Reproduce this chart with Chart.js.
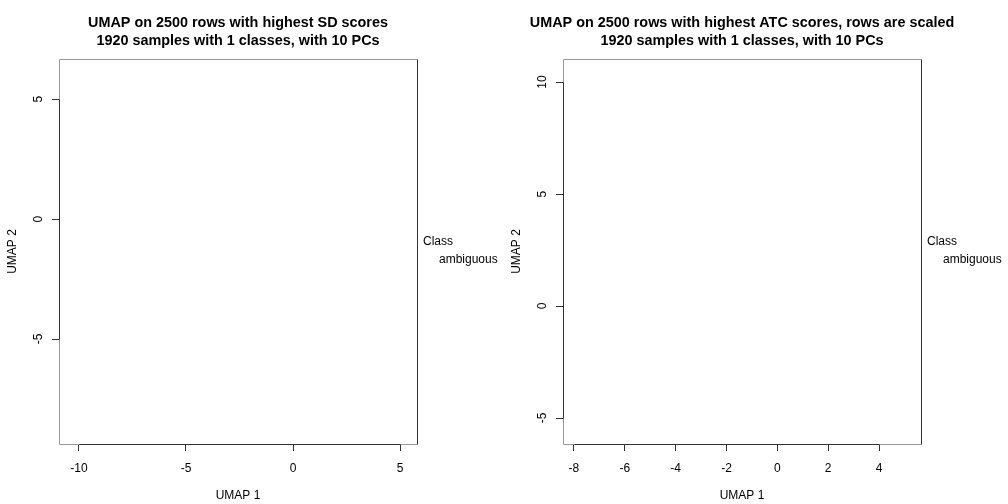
<!DOCTYPE html>
<html>
<head>
<meta charset="utf-8">
<script src="https://cdn.jsdelivr.net/npm/chart.js@4/dist/chart.umd.min.js"></script>
<style>
  html, body { margin: 0; padding: 0; background: #fff; }
  #wrap { position: relative; width: 1008px; height: 504px; }
  .panel { position: absolute; top: 0; width: 504px; height: 504px; }
</style>
</head>
<body>
<div id="wrap">
  <div class="panel" style="left:0"><canvas id="c1" width="504" height="504"></canvas></div>
  <div class="panel" style="left:504px"><canvas id="c2" width="504" height="504"></canvas></div>
</div>
<script>
// ---- data ----
const classes = ['ambiguous'];
const legendTitle = 'Class';

// Panel 1: SD scores (no points visible in the reference)
const sdTitle = ['UMAP on 2500 rows with highest SD scores', '1920 samples with 1 classes, with 10 PCs'];
const sdUmap1 = [];
const sdUmap2 = [];
const sdXRange = [-10.93, 5.79];
const sdYRange = [-9.375, 6.67];
const sdXTicks = [-10, -5, 0, 5];
const sdYTicks = [-5, 0, 5];

// Panel 2: ATC scores (no points visible in the reference)
const atcTitle = ['UMAP on 2500 rows with highest ATC scores, rows are scaled', '1920 samples with 1 classes, with 10 PCs'];
const atcUmap1 = [];
const atcUmap2 = [];
const atcXRange = [-8.43, 5.65];
const atcYRange = [-6.16, 11.03];
const atcXTicks = [-8, -6, -4, -2, 0, 2, 4];
const atcYTicks = [-5, 0, 5, 10];

const xLabel = 'UMAP 1';
const yLabel = 'UMAP 2';

const FONT = '"Liberation Sans", Arial, Helvetica, sans-serif';

function makePanel(canvasId, titleLines, xs, ys, xRange, yRange, xTicks, yTicks) {
  const points = xs.map((x, i) => ({ x: x, y: ys[i] }));
  const decor = {
    id: 'decor',
    afterDraw(chart) {
      const ctx = chart.ctx;
      const a = chart.chartArea;
      const xs_ = chart.scales.x, ys_ = chart.scales.y;
      ctx.save();
      // box
      ctx.lineWidth = 1;
      ctx.strokeStyle = '#9a9a9a';
      ctx.beginPath();
      ctx.moveTo(a.left + 0.5, a.bottom + 0.5); ctx.lineTo(a.left + 0.5, a.top + 0.5);
      ctx.lineTo(a.right + 0.5, a.top + 0.5);
      ctx.moveTo(a.left + 0.5, a.bottom + 0.5); ctx.lineTo(a.right + 0.5, a.bottom + 0.5);
      ctx.stroke();
      ctx.strokeStyle = '#333';
      ctx.beginPath();
      ctx.moveTo(a.right + 0.5, a.top + 0.5); ctx.lineTo(a.right + 0.5, a.bottom + 0.5);
      ctx.stroke();
      // axis segments from first to last tick
      const x0 = Math.round(xs_.getPixelForValue(xTicks[0])) + 0.5;
      const x1 = Math.round(xs_.getPixelForValue(xTicks[xTicks.length - 1])) + 0.5;
      const y0 = Math.round(ys_.getPixelForValue(yTicks[0])) + 0.5;
      const y1 = Math.round(ys_.getPixelForValue(yTicks[yTicks.length - 1])) + 0.5;
      ctx.beginPath();
      ctx.moveTo(x0, a.bottom + 0.5); ctx.lineTo(x1, a.bottom + 0.5);
      ctx.moveTo(a.left + 0.5, y0); ctx.lineTo(a.left + 0.5, y1);
      ctx.stroke();
      // rotated y tick labels
      ctx.fillStyle = '#000';
      ctx.font = '12px ' + FONT;
      ctx.textAlign = 'center';
      ctx.textBaseline = 'middle';
      yTicks.forEach(v => {
        const py = ys_.getPixelForValue(v);
        ctx.save();
        ctx.translate(a.left - 20.5, py);
        ctx.rotate(-Math.PI / 2);
        ctx.fillText(String(v), 0, 0);
        ctx.restore();
      });
      // titles
      ctx.font = 'bold 14.4px ' + FONT;
      ctx.textAlign = 'center';
      ctx.textBaseline = 'alphabetic';
      const cx = (a.left + a.right) / 2;
      ctx.fillText(titleLines[0], cx, 26.5);
      ctx.fillText(titleLines[1], cx, 44.5);
      // legend
      ctx.font = '12px ' + FONT;
      ctx.textAlign = 'left';
      ctx.fillText(legendTitle, a.right + 6, 245);
      classes.forEach((c, i) => {
        ctx.fillText(c, a.right + 22, 263 + i * 18);
      });
      ctx.restore();
    }
  };

  return new Chart(document.getElementById(canvasId), {
    type: 'scatter',
    data: {
      datasets: [{
        label: classes[0],
        data: points,
        pointRadius: 1,
        backgroundColor: 'rgba(0,0,0,0)',
        borderColor: 'rgba(0,0,0,0)'
      }]
    },
    options: {
      responsive: false,
      animation: false,
      layout: { padding: { left: 0, right: 87, top: 59, bottom: 0 } },
      plugins: { legend: { display: false }, tooltip: { enabled: false }, title: { display: false } },
      scales: {
        x: {
          type: 'linear',
          min: xRange[0], max: xRange[1],
          afterBuildTicks: s => { s.ticks = xTicks.map(v => ({ value: v })); },
          afterFit: s => { s.height = 60; },
          border: { display: false },
          grid: { drawOnChartArea: false, drawTicks: true, tickLength: 7, color: '#333', tickColor: '#333', lineWidth: 1 },
          ticks: { color: '#000', font: { family: FONT, size: 12 }, padding: 10, maxRotation: 0, autoSkip: false },
          title: { display: true, text: xLabel, color: '#000', font: { family: FONT, size: 12 }, padding: { top: 0, bottom: 1 } }
        },
        y: {
          type: 'linear',
          min: yRange[0], max: yRange[1],
          afterBuildTicks: s => { s.ticks = yTicks.map(v => ({ value: v })); },
          afterFit: s => { s.width = 59; },
          border: { display: false },
          grid: { drawOnChartArea: false, drawTicks: true, tickLength: 7, color: '#333', tickColor: '#333', lineWidth: 1 },
          ticks: { display: false },
          title: { display: true, text: yLabel, color: '#000', font: { family: FONT, size: 12 }, padding: { top: 5, bottom: 0 } }
        }
      }
    },
    plugins: [decor]
  });
}

makePanel('c1', sdTitle, sdUmap1, sdUmap2, sdXRange, sdYRange, sdXTicks, sdYTicks);
makePanel('c2', atcTitle, atcUmap1, atcUmap2, atcXRange, atcYRange, atcXTicks, atcYTicks);
</script>
</body>
</html>
